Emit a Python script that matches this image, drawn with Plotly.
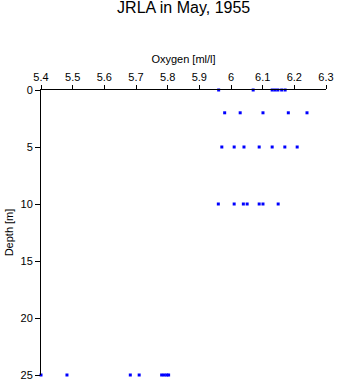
import plotly.graph_objects as go

depth_0 = [5.961, 6.070, 6.130, 6.139, 6.148, 6.160, 6.171]
depth_2 = [5.980, 6.029, 6.101, 6.181, 6.240]
depth_5 = [5.971, 6.010, 6.041, 6.089, 6.130, 6.170, 6.209]
depth_10 = [5.960, 6.010, 6.039, 6.051, 6.089, 6.101, 6.149]
depth_25 = [5.400, 5.482, 5.682, 5.710, 5.781, 5.789, 5.797, 5.803]

oxygen = depth_0 + depth_2 + depth_5 + depth_10 + depth_25
depth = ([0] * len(depth_0) + [2] * len(depth_2) + [5] * len(depth_5)
         + [10] * len(depth_10) + [25] * len(depth_25))

fig = go.Figure(go.Scatter(
    x=oxygen, y=depth, mode="markers", cliponaxis=False,
    marker=dict(symbol="square", size=3, color="#0000ff", line=dict(width=0)),
))

font = dict(family="Liberation Sans, Arial, sans-serif", size=11, color="black")
fig.update_layout(
    width=337, height=384,
    margin=dict(l=41, r=11, t=90, b=9, autoexpand=False),
    paper_bgcolor="white", plot_bgcolor="white",
    showlegend=False, font=font,
    title=dict(text="JRLA in May, 1955", x=0.545, xanchor="center", y=0.995, yanchor="top",
               font=dict(family="Liberation Sans, Arial, sans-serif", size=16, color="black")),
    xaxis=dict(side="top", range=[5.4, 6.3], tickvals=[5.4, 5.5, 5.6, 5.7, 5.8, 5.9, 6.0, 6.1, 6.2, 6.3],
               ticktext=["5.4", "5.5", "5.6", "5.7", "5.8", "5.9", "6", "6.1", "6.2", "6.3"],
               showgrid=False, zeroline=False, showline=True, linecolor="black", linewidth=1,
               ticks="outside", ticklen=4, tickcolor="black", automargin=False,
               title=dict(text="Oxygen [ml/l]", standoff=4, font=font)),
    yaxis=dict(range=[25, 0], tickvals=[0, 5, 10, 15, 20, 25],
               showgrid=False, zeroline=False, showline=True, linecolor="black", linewidth=1,
               ticks="outside", ticklen=5, tickcolor="black", automargin=False,
               title=dict(text="Depth [m]", standoff=4, font=font)),
)

fig.write_html("out.html")
